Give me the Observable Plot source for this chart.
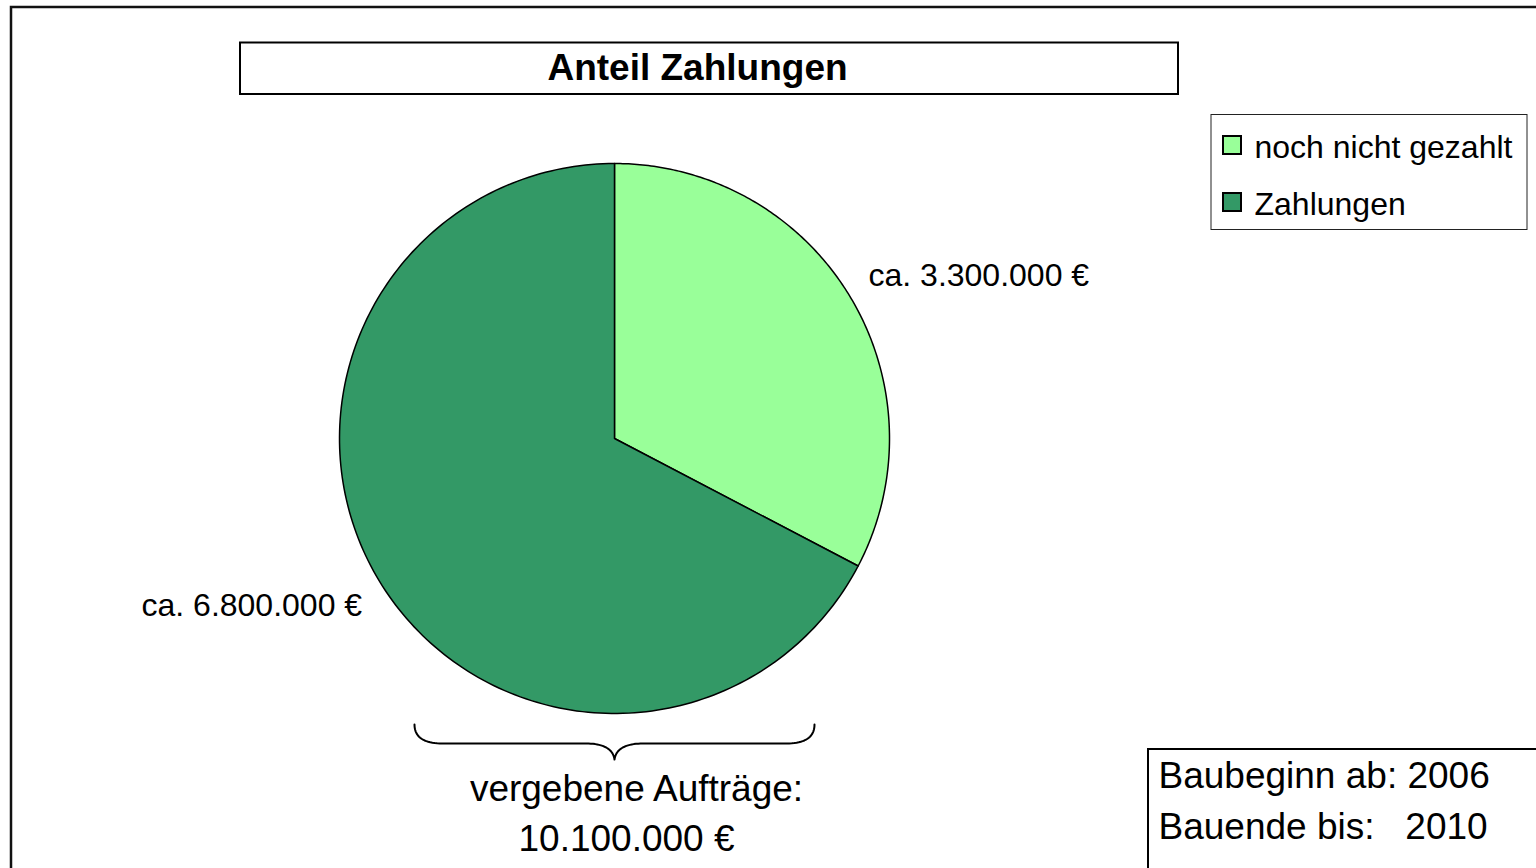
<!DOCTYPE html>
<html>
<head>
<meta charset="utf-8">
<script src="https://cdn.jsdelivr.net/npm/d3@7"></script>
<script src="https://cdn.jsdelivr.net/npm/@observablehq/plot@0.6"></script>
<style>
  html, body { margin: 0; padding: 0; background: #fff; overflow: hidden; }
  #chart svg { display: block; font-family: "Liberation Sans", Arial, sans-serif; }
</style>
</head>
<body>
<div id="chart"></div>
<script>
// ---- data ----
const categories = ["noch nicht gezahlt", "Zahlungen"];
const values = [3300000, 6800000];
const sliceLabels = ["ca. 3.300.000 €", "ca. 6.800.000 €"];
const colors = ["#99FF99", "#339966"];
const title = "Anteil Zahlungen";
const totalLabel = ["vergebene Aufträge:", "10.100.000 €"];
const infoLines = ["Baubeginn ab: 2006", "Bauende bis:\u00A0\u00A0\u00A02010"];

// ---- layout ----
const W = 1536, H = 868;
const cx = 614, cy = 438, R = 275;

// pie geometry through d3.pie
const arcs = d3.pie().sort(null).startAngle(0).endAngle(2 * Math.PI)(values);
const slicePts = [];
arcs.forEach((a, i) => {
  slicePts.push({cat: categories[i], x: cx, y: cy});
  const n = 200;
  for (let k = 0; k <= n; k++) {
    const t = a.startAngle + (a.endAngle - a.startAngle) * k / n;
    slicePts.push({cat: categories[i], x: cx + R * Math.sin(t), y: cy - R * Math.cos(t)});
  }
  slicePts.push({cat: categories[i], x: cx, y: cy});
});

// brace below pie (decoration)
function quad(p0, c, p1, n = 20) {
  const out = [];
  for (let k = 0; k <= n; k++) {
    const t = k / n;
    out.push({
      x: (1 - t) * (1 - t) * p0[0] + 2 * (1 - t) * t * c[0] + t * t * p1[0],
      y: (1 - t) * (1 - t) * p0[1] + 2 * (1 - t) * t * c[1] + t * t * p1[1]
    });
  }
  return out;
}
const bL = cx - 200, bR = cx + 200, bTop = cy + R + 11, bMid = cy + R + 30, bTip = cy + R + 46;
const brace = [
  ...quad([bL, bTop], [bL, bMid], [bL + 28, bMid]),
  ...quad([cx - 26, bMid], [cx - 2, bMid + 1], [cx, bTip]),
  ...quad([cx, bTip], [cx + 2, bMid + 1], [cx + 26, bMid]),
  ...quad([bR - 28, bMid], [bR, bMid], [bR, bTop])
];

// boxes
const frames = [
  {x1: 11, y1: 7, x2: W + 5, y2: H + 5, sw: 2.5, stroke: "#111"},
  {x1: 240, y1: 42.5, x2: 1178, y2: 94, sw: 2, stroke: "#000"},
  {x1: 1211, y1: 114.5, x2: 1527, y2: 229.5, sw: 1, stroke: "#222"},
  {x1: 1148, y1: 749, x2: W + 5, y2: H + 5, sw: 2, stroke: "#000"}
];

const legendItems = categories.map((c, i) => ({cat: c, color: colors[i], i}));

const chart = Plot.plot({
  width: W, height: H,
  margin: 0,
  x: {domain: [0, W], range: [0, W], axis: null},
  y: {domain: [0, H], range: [0, H], axis: null},
  color: {domain: categories, range: colors},
  style: {fontFamily: "'Liberation Sans', Arial, sans-serif", background: "#fff"},
  marks: [
    Plot.rect(frames, {x1: "x1", x2: "x2", y1: "y1", y2: "y2", fill: "white", stroke: d => d.stroke, strokeWidth: d => d.sw}),
    Plot.line(slicePts, {x: "x", y: "y", z: "cat", fill: "cat", stroke: "#000", strokeWidth: 1.5, strokeLinejoin: "round"}),
    Plot.line(brace, {x: "x", y: "y", stroke: "#000", strokeWidth: 2, curve: "linear"}),
    Plot.text([title], {x: 697, y: 68, text: d => d, fontSize: 37, fontWeight: "bold", fill: "#000", textAnchor: "middle", lineAnchor: "middle"}),
    Plot.text([sliceLabels[0]], {x: 868, y: 287, text: d => d, fontSize: 32, fill: "#000", textAnchor: "start", lineAnchor: "bottom", dy: -2}),
    Plot.text([sliceLabels[1]], {x: 141, y: 615, text: d => d, fontSize: 32, fill: "#000", textAnchor: "start", lineAnchor: "bottom", dy: 0}),
    Plot.text(totalLabel, {x: (d, i) => [636, 626][i], y: (d, i) => [802, 852][i], text: d => d, fontSize: 37, fill: "#000", textAnchor: "middle", lineAnchor: "bottom", dy: -2}),
    Plot.text(infoLines, {x: 1158, y: (d, i) => [787, 838][i], text: d => d, fontSize: 37, fill: "#000", textAnchor: "start", lineAnchor: "bottom", dy: 0}),
    // legend
    Plot.rect(legendItems, {x1: 1223, x2: 1241, y1: d => 136 + d.i * 57, y2: d => 154 + d.i * 57, fill: "color", stroke: "#000", strokeWidth: 2}),
    Plot.text(legendItems, {x: 1254, y: d => 155 + d.i * 57, text: "cat", fontSize: 32, fill: "#000", textAnchor: "start", lineAnchor: "bottom", dy: 2})
  ]
});
document.getElementById("chart").appendChild(chart);
</script>
</body>
</html>
